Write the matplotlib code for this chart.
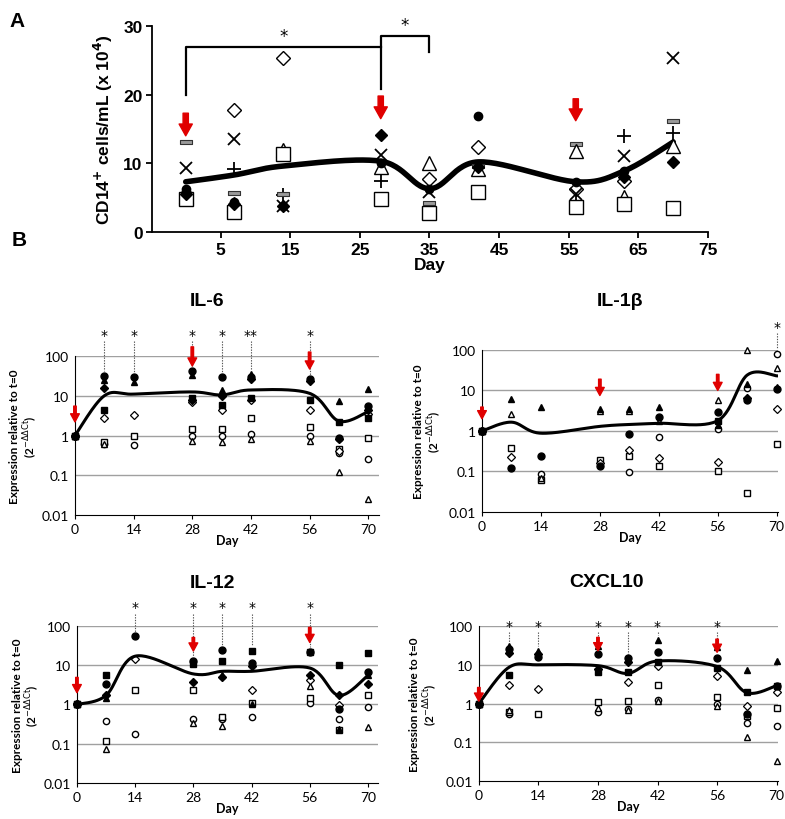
import numpy as np
import matplotlib.pyplot as plt
from matplotlib.path import Path

nan = np.nan
days = [0, 7, 14, 28, 35, 42, 56, 63, 70]

# ---- panel A: CD14+ cells/mL (x 10^4), one row per animal ----
cd14 = [
    [5.5, 17.8, 25.3, nan, 7.7, 12.4, 6.3, 7.4, nan],     # open diamond
    [9.3, 13.5, 3.8, 11.2, 5.8, nan, 5.5, 11.1, 25.3],    # x
    [5.3, 9.2, 5.4, 7.4, nan, nan, 4.4, 14.0, 14.4],      # +
    [13.1, 5.7, 5.5, nan, 4.2, 9.6, 12.8, nan, 16.2],     # grey bar
    [5.3, 4.0, 12.0, 9.5, 10.0, 9.2, 11.8, 5.1, 12.5],    # open triangle
    [4.8, 2.9, 11.3, 4.8, 2.8, 5.8, 3.6, 4.1, 3.5],       # open square
    [6.2, 4.3, 3.8, 10.0, 6.3, 16.9, 7.3, 8.9, nan],      # filled circle
    [5.5, 4.0, 3.8, 14.1, nan, 9.5, nan, 8.0, 10.2],      # filled diamond
]
cd14_mean = [7.3, 8.3, 9.6, 10.3, 6.3, 10.2, 7.3, 8.9, 13.1]
cd14_arrows = [(0, 17.3, 14.0), (28, 19.8, 16.5), (56, 19.4, 16.2)]

# ---- panel B: expression relative to t=0, rows = oc, os, ot, od, fc, fs, ft, fd ----
il6 = [
    [1, 0.6, 0.59, 1.0, 1.0, 1.1, 1.0, 0.36, 0.26],
    [1, 0.7, 1.0, 1.5, 1.5, 2.8, 1.6, 0.46, 0.87],
    [1, 0.6, nan, 0.72, 0.68, 0.82, 0.72, 0.12, 0.025],
    [1, 2.8, 3.2, 7, 4.4, 8, 4.4, 0.4, 3.5],
    [1, 32, 29, 42, 29, 29, 26, 0.85, 5.5],
    [1, 4.4, nan, 9, 6, 9, 8, 2.2, 2.8],
    [1, 25, 22, 33, 14, 35, nan, 7.4, 14.6],
    [1, 16, nan, 8, 10, 26, 24, 0.8, 4.5],
]
il6_mean = [1, 10, 11, 12.5, 10.5, 14, 11.5, 2.3, 4]

il1b = [
    [1, nan, 0.089, nan, 0.095, 0.71, 1.1, 11.4, 80],
    [1, 0.38, 0.062, 0.19, 0.24, 0.14, 0.1, 0.03, 0.49],
    [1, 2.7, 0.07, 3.2, 3.2, 1.8, 5.7, 100, 35],
    [1, 0.23, nan, 0.16, 0.33, 0.22, 0.17, nan, 3.4],
    [1, 0.12, 0.24, 0.14, 0.86, 2.2, 2.9, 5.7, 11],
    [1, nan, nan, nan, nan, nan, 1.8, nan, nan],
    [1, 6.2, 3.9, 3.5, 3.4, 3.9, 1.4, 14.6, 12],
    [1, nan, nan, nan, nan, nan, nan, 6.5, nan],
]
il1b_mean = [1, 1.65, 0.88, 1.3, 1.45, 1.55, 1.8, 24, 23]

il12 = [
    [1, 0.39, 0.18, 0.43, 0.43, 0.49, 1.1, 0.43, 0.86],
    [1, 0.115, 2.3, 2.4, 0.48, 1.1, 1.45, 0.23, 1.7],
    [1, 0.072, nan, 0.34, 0.29, nan, 2.9, nan, 0.27],
    [1, nan, 14, nan, nan, 2.3, 4.1, 0.95, nan],
    [1, 3.4, 55, 13, 25, 11.4, 22, 0.75, 6.6],
    [1, 5.5, nan, 10.8, 13, 23.6, 22.3, 10, 20.6],
    [1, 1.45, nan, 12, 5.5, 1.0, nan, 0.24, 5.5],
    [1, 1.7, nan, 3.7, 4.9, 9.8, 5.8, 1.7, 3.4],
]
il12_mean = [1, 1.7, 17, 6, 7, 7, 8.5, 1.7, 5.5]

cxcl10 = [
    [1, 0.53, nan, 0.62, 0.74, 1.2, 0.95, 0.31, 0.27],
    [1, 0.61, 0.53, 1.1, 1.17, 3.0, 1.5, 0.48, 0.79],
    [1, 0.69, nan, 0.79, 0.69, 1.17, 0.85, 0.14, 0.033],
    [1, 3.0, 2.4, nan, 3.7, 9.4, 5.0, 0.84, 2.0],
    [1, 25, 15.5, 19, 14.6, 21, 15, 0.53, 2.9],
    [1, 5.5, nan, 6.6, 6.6, 12, 8.5, 2.0, 2.8],
    [1, 30, 23, 31, nan, 44, 28, 7.4, 12.2],
    [1, 20, 19, 7.7, 11.5, nan, nan, nan, nan],
]
cxcl10_mean = [1, 8.5, 10, 9.5, 6, 12.5, 9, 1.9, 2.9]

RED = '#e00000'
bar_marker = Path([(-1, -0.35), (1, -0.35), (1, 0.35), (-1, 0.35), (-1, -0.35)],
                  [Path.MOVETO, Path.LINETO, Path.LINETO, Path.LINETO, Path.CLOSEPOLY])

a_styles = [
    dict(marker='D', ms=7, mfc='white', mec='k', mew=1),
    dict(marker='x', ms=9, mec='k', mew=1.3),
    dict(marker='+', ms=10, mec='k', mew=1.3),
    dict(marker=bar_marker, ms=9, mfc='#9a9a9a', mec='#333333', mew=0.8),
    dict(marker='^', ms=10, mfc='white', mec='k', mew=1),
    dict(marker='s', ms=10, mfc='white', mec='k', mew=1),
    dict(marker='o', ms=6, mfc='k', mec='k'),
    dict(marker='D', ms=6, mfc='k', mec='k'),
]
b_styles = [
    dict(marker='o', ms=4.5, mfc='white', mec='k', mew=1),
    dict(marker='s', ms=4.5, mfc='white', mec='k', mew=1),
    dict(marker='^', ms=5, mfc='white', mec='k', mew=1),
    dict(marker='D', ms=3.8, mfc='white', mec='k', mew=0.9),
    dict(marker='o', ms=5, mfc='k', mec='k'),
    dict(marker='s', ms=4.5, mfc='k', mec='k'),
    dict(marker='^', ms=5, mfc='k', mec='k'),
    dict(marker='D', ms=3.8, mfc='k', mec='k'),
]


def smooth(x, y, n=30):
    # Bezier smoothing through the points, like a spreadsheet "smoothed line"
    x = np.asarray(x, float)
    y = np.asarray(y, float)
    xs, ys = [], []
    t = np.linspace(0, 1, n)
    for i in range(len(x) - 1):
        i0, i3 = max(i - 1, 0), min(i + 2, len(x) - 1)
        p0 = np.array([x[i0], y[i0]])
        p1 = np.array([x[i], y[i]])
        p2 = np.array([x[i + 1], y[i + 1]])
        p3 = np.array([x[i3], y[i3]])
        c1 = p1 + (p2 - p0) / 6
        c2 = p2 - (p3 - p1) / 6
        pts = (np.outer((1 - t) ** 3, p1) + np.outer(3 * (1 - t) ** 2 * t, c1)
               + np.outer(3 * (1 - t) * t ** 2, c2) + np.outer(t ** 3, p2))
        xs.append(pts[:, 0])
        ys.append(pts[:, 1])
    return np.concatenate(xs), np.concatenate(ys)


fig = plt.figure(figsize=(7.85, 8.2), dpi=100)

# ---------------- panel A ----------------
ax = fig.add_axes([0.194, 0.716, 0.708, 0.251])
AF = 'Liberation Sans'
sx, sy = smooth(days, cd14_mean)
ax.plot(sx, sy, color='k', lw=4, zorder=2, solid_capstyle='round')
for row, st in zip(cd14, a_styles):
    ax.plot(days, row, ls='none', zorder=3, clip_on=False, **st)
for d, tail, tip in cd14_arrows:
    ax.annotate('', xy=(d, tip), xytext=(d, tail), zorder=5,
                arrowprops=dict(arrowstyle='simple,head_length=0.85,head_width=0.95,tail_width=0.38',
                                color=RED, mutation_scale=10, shrinkA=0, shrinkB=0))
ax.plot([0, 0, 28], [20, 27, 27], color='k', lw=1.6, clip_on=False)
ax.plot([28, 28, 35, 35], [20.8, 28.6, 28.6, 26.2], color='k', lw=1.6, clip_on=False)
ax.text(14, 27.2, '*', ha='center', va='bottom', fontsize=12, family='DejaVu Sans')
ax.text(31.5, 28.8, '*', ha='center', va='bottom', fontsize=12, family='DejaVu Sans',
        clip_on=False)
ax.set_xlim(-4.8, 75)
ax.set_ylim(0, 30)
ax.set_xticks([5, 15, 25, 35, 45, 55, 65, 75])
ax.set_yticks([0, 10, 20, 30])
for s in ['top', 'right']:
    ax.spines[s].set_visible(False)
for s in ['left', 'bottom']:
    ax.spines[s].set_linewidth(1.3)
ax.tick_params(width=1.3, length=4, labelsize=12.5, pad=3)
for lab in ax.get_xticklabels() + ax.get_yticklabels():
    lab.set_fontweight('bold')
    lab.set_family(AF)
ax.set_xlabel('Day', fontsize=12.5, fontweight='bold', family=AF, labelpad=0)
ax.set_ylabel('CD14$^{\\mathbf{+}}$ cells/mL (x 10$^{\\mathbf{4}}$)', fontsize=12.5,
              fontweight='bold', family=AF, labelpad=6)
fig.text(0.012, 0.974, 'A', fontsize=15, fontweight='bold', family=AF, va='center')
fig.text(0.015, 0.707, 'B', fontsize=15, fontweight='bold', family=AF, va='center')


# ---------------- panel B ----------------
def expr_panel(rect, values, mean, arrows, star_days, star_labels, star_y, dot_top,
               title, title_xy, xmax, ylab_x):
    ax = fig.add_axes(rect)
    ax.set_yscale('log')
    ax.set_ylim(0.01, 100)
    ax.set_xlim(0, xmax)
    ax.minorticks_off()
    for g in [0.1, 1, 10, 100]:
        ax.axhline(g, color='#a0a0a0', lw=1, zorder=0)
    sx, sy = smooth(days, np.log10(mean))
    ax.plot(sx, 10 ** sy, color='k', lw=2.2, zorder=4)
    for row, st in zip(values, b_styles):
        ax.plot(days, row, ls='none', zorder=3, clip_on=False, **st)
    for d, tail, tip in arrows:
        ax.annotate('', xy=(d, tip), xytext=(d, tail), zorder=6, annotation_clip=False,
                    arrowprops=dict(arrowstyle='simple,head_length=0.65,head_width=0.7,tail_width=0.2',
                                    color=RED, mutation_scale=9, shrinkA=0, shrinkB=0))
    for d, lab in zip(star_days, star_labels):
        i = days.index(d)
        top = np.nanmax([r[i] for r in values]) * 1.3
        ax.plot([d, d], [dot_top, top], color='#555555', lw=0.8, ls=(0, (1.2, 1.2)),
                clip_on=False, zorder=2)
        ax.text(d, star_y, lab, ha='center', va='baseline', fontsize=10, clip_on=False)
    ax.set_xticks([0, 14, 28, 42, 56, 70])
    ax.set_yticks([0.01, 0.1, 1, 10, 100])
    ax.set_yticklabels(['0.01', '0.1', '1', '10', '100'])
    for s in ['top', 'right']:
        ax.spines[s].set_visible(False)
    ax.tick_params(axis='y', length=0, pad=4, labelsize=10)
    ax.tick_params(axis='x', length=3, pad=3, labelsize=10)
    for lab in ax.get_xticklabels() + ax.get_yticklabels():
        lab.set_family('Lato')
    ax.set_xlabel('Day', fontsize=9, fontweight='bold', family='Lato', labelpad=-1)
    ax.set_ylabel('Expression relative to t=0\n(2$^{\\mathrm{-\\Delta\\Delta Ct}}$)', fontsize=8.5,
                  fontweight='bold', family='Lato', linespacing=1.1)
    ax.yaxis.set_label_coords(ylab_x, 0.5)
    fig.text(title_xy[0], title_xy[1], title, ha='center', va='center', fontsize=14,
             fontweight='bold', family='Liberation Sans')
    return ax


expr_panel([0.0955, 0.3707, 0.387, 0.1939], il6, il6_mean,
           [(0, 5.5, 2.2), (28, 170, 56), (56, 126, 47)],
           [7, 14, 28, 35, 42, 56], ['*', '*', '*', '*', '**', '*'], 270, 240,
           'IL-6', (0.264, 0.632), 72.5, -0.115)
expr_panel([0.614, 0.3744, 0.377, 0.1976], il1b, il1b_mean,
           [(0, 3.9, 2.0), (28, 19, 7.5), (56, 25, 10)],
           [70], ['*'], 295, 262,
           'IL-1\u03b2', (0.79, 0.632), 70.3, -0.13)
expr_panel([0.098, 0.0439, 0.384, 0.1915], il12, il12_mean,
           [(0, 4.9, 2.0), (28, 51, 23), (56, 92, 38)],
           [14, 28, 35, 42, 56], ['*'] * 5, 235, 200,
           'IL-12', (0.271, 0.289), 72.5, -0.115)
expr_panel([0.610, 0.0463, 0.381, 0.189], cxcl10, cxcl10_mean,
           [(0, 2.6, 1.15), (28, 51, 23), (56, 46, 21)],
           [7, 14, 28, 35, 42, 56], ['*'] * 6, 81, 72,
           'CXCL10', (0.773, 0.29), 70.3, -0.13)

fig.savefig('out.png', dpi=100)
